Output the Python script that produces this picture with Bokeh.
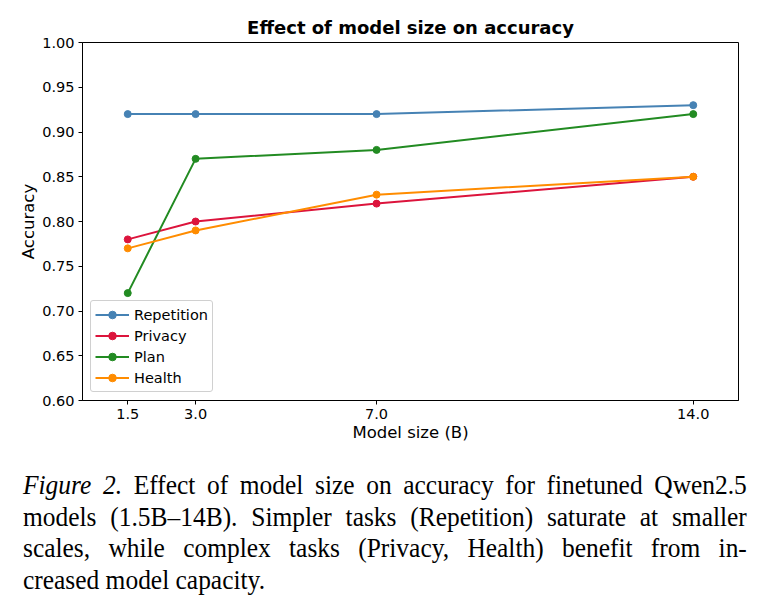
from bokeh.plotting import figure
from bokeh.models import FixedTicker, PrintfTickFormatter, Range1d, Legend, LegendItem, Div
from bokeh.layouts import column
from bokeh.embed import file_html
from bokeh.resources import INLINE

sizes = [1.5, 3.0, 7.0, 14.0]
size_labels = ["1.5", "3.0", "7.0", "14.0"]
repetition = [0.92, 0.92, 0.92, 0.93]
privacy = [0.78, 0.80, 0.82, 0.85]
plan = [0.72, 0.87, 0.88, 0.92]
health = [0.77, 0.79, 0.83, 0.85]
series_names = ["Repetition", "Privacy", "Plan", "Health"]
series_colors = ["#4682B4", "#DC143C", "#228B22", "#FF8C00"]
y_ticks = [0.60, 0.65, 0.70, 0.75, 0.80, 0.85, 0.90, 0.95, 1.00]
caption_lines = [
    "<i>Figure 2.</i> Effect of model size on accuracy for finetuned Qwen2.5",
    "models (1.5B&ndash;14B). Simpler tasks (Repetition) saturate at smaller",
    "scales, while complex tasks (Privacy, Health) benefit from in-",
    "creased model capacity.",
]

FONT = "DejaVu Sans"

p = figure(width=757, height=450, output_backend="svg", toolbar_location=None,
           x_range=Range1d(0.5, 15.0), y_range=Range1d(0.60, 1.00),
           min_border_left=82, min_border_right=19, min_border_top=42, min_border_bottom=50)
p.title.text = "Effect of model size on accuracy"
p.title.text_font = FONT
p.title.text_font_size = "18px"
p.title.text_font_style = "bold"
p.title.text_color = "black"
p.title.align = "center"
p.title.offset = 0
p.grid.visible = False
p.outline_line_color = "black"
p.outline_line_width = 1
p.background_fill_color = "white"
p.border_fill_color = "white"

for ax in (p.xaxis[0], p.yaxis[0]):
    ax.axis_line_color = "black"
    ax.major_tick_in = 0
    ax.major_tick_out = 4
    ax.minor_tick_out = 0
    ax.minor_tick_in = 0
    ax.major_label_standoff = 4
    ax.major_label_text_font = FONT
    ax.major_label_text_font_size = "14.5px"
    ax.major_label_text_color = "black"
    ax.axis_label_text_font = FONT
    ax.axis_label_text_font_size = "16.5px"
    ax.axis_label_text_font_style = "normal"
    ax.axis_label_text_color = "black"

p.xaxis.ticker = FixedTicker(ticks=sizes)
p.xaxis.major_label_overrides = {s: l for s, l in zip(sizes, size_labels)}
p.xaxis.axis_label = "Model size (B)"
p.xaxis.axis_label_standoff = 1
p.yaxis.ticker = FixedTicker(ticks=y_ticks)
p.yaxis.formatter = PrintfTickFormatter(format="%.2f")
p.yaxis.axis_label = "Accuracy"
p.yaxis.axis_label_standoff = 1

items = []
for name, vals, col in zip(series_names, [repetition, privacy, plan, health], series_colors):
    r1 = p.line(sizes, vals, line_color=col, line_width=2)
    r2 = p.scatter(sizes, vals, size=7, fill_color=col, line_color=col)
    items.append(LegendItem(label=name, renderers=[r1, r2]))

legend = Legend(items=items, location="bottom_left")
legend.label_text_font = FONT
legend.label_text_font_size = "14.5px"
legend.label_text_color = "black"
legend.border_line_color = "#d0d0d0"
legend.border_line_alpha = 1
legend.border_radius = 3
legend.spacing = 2
legend.padding = 4
legend.margin = 8
legend.glyph_width = 34
legend.label_height = 19
legend.glyph_height = 19
legend.background_fill_alpha = 0.8
p.add_layout(legend)

scale = 0.96
inner_w = int(724 / scale)
line_divs = []
for i, ln in enumerate(caption_lines):
    last = "left" if i == len(caption_lines) - 1 else "justify"
    line_divs.append(
        f'<div style="text-align: justify; text-align-last: {last}; white-space: nowrap;">{ln}</div>')
caption = Div(text=(
    '<div style="width: 724px; margin-left: 18px; margin-top: 15px; overflow: visible;">'
    f'<div style="font-family: \'Liberation Serif\', \'Times New Roman\', serif; font-size: 26.5px; '
    f'line-height: 31.7px; color: black; width: {inner_w}px; transform: scaleX({scale}); '
    'transform-origin: 0 0;">' + "".join(line_divs) + '</div></div>'), width=757, height=150)

layout = column(p, caption, spacing=0)
open("out.html", "w").write(file_html(layout, INLINE))
